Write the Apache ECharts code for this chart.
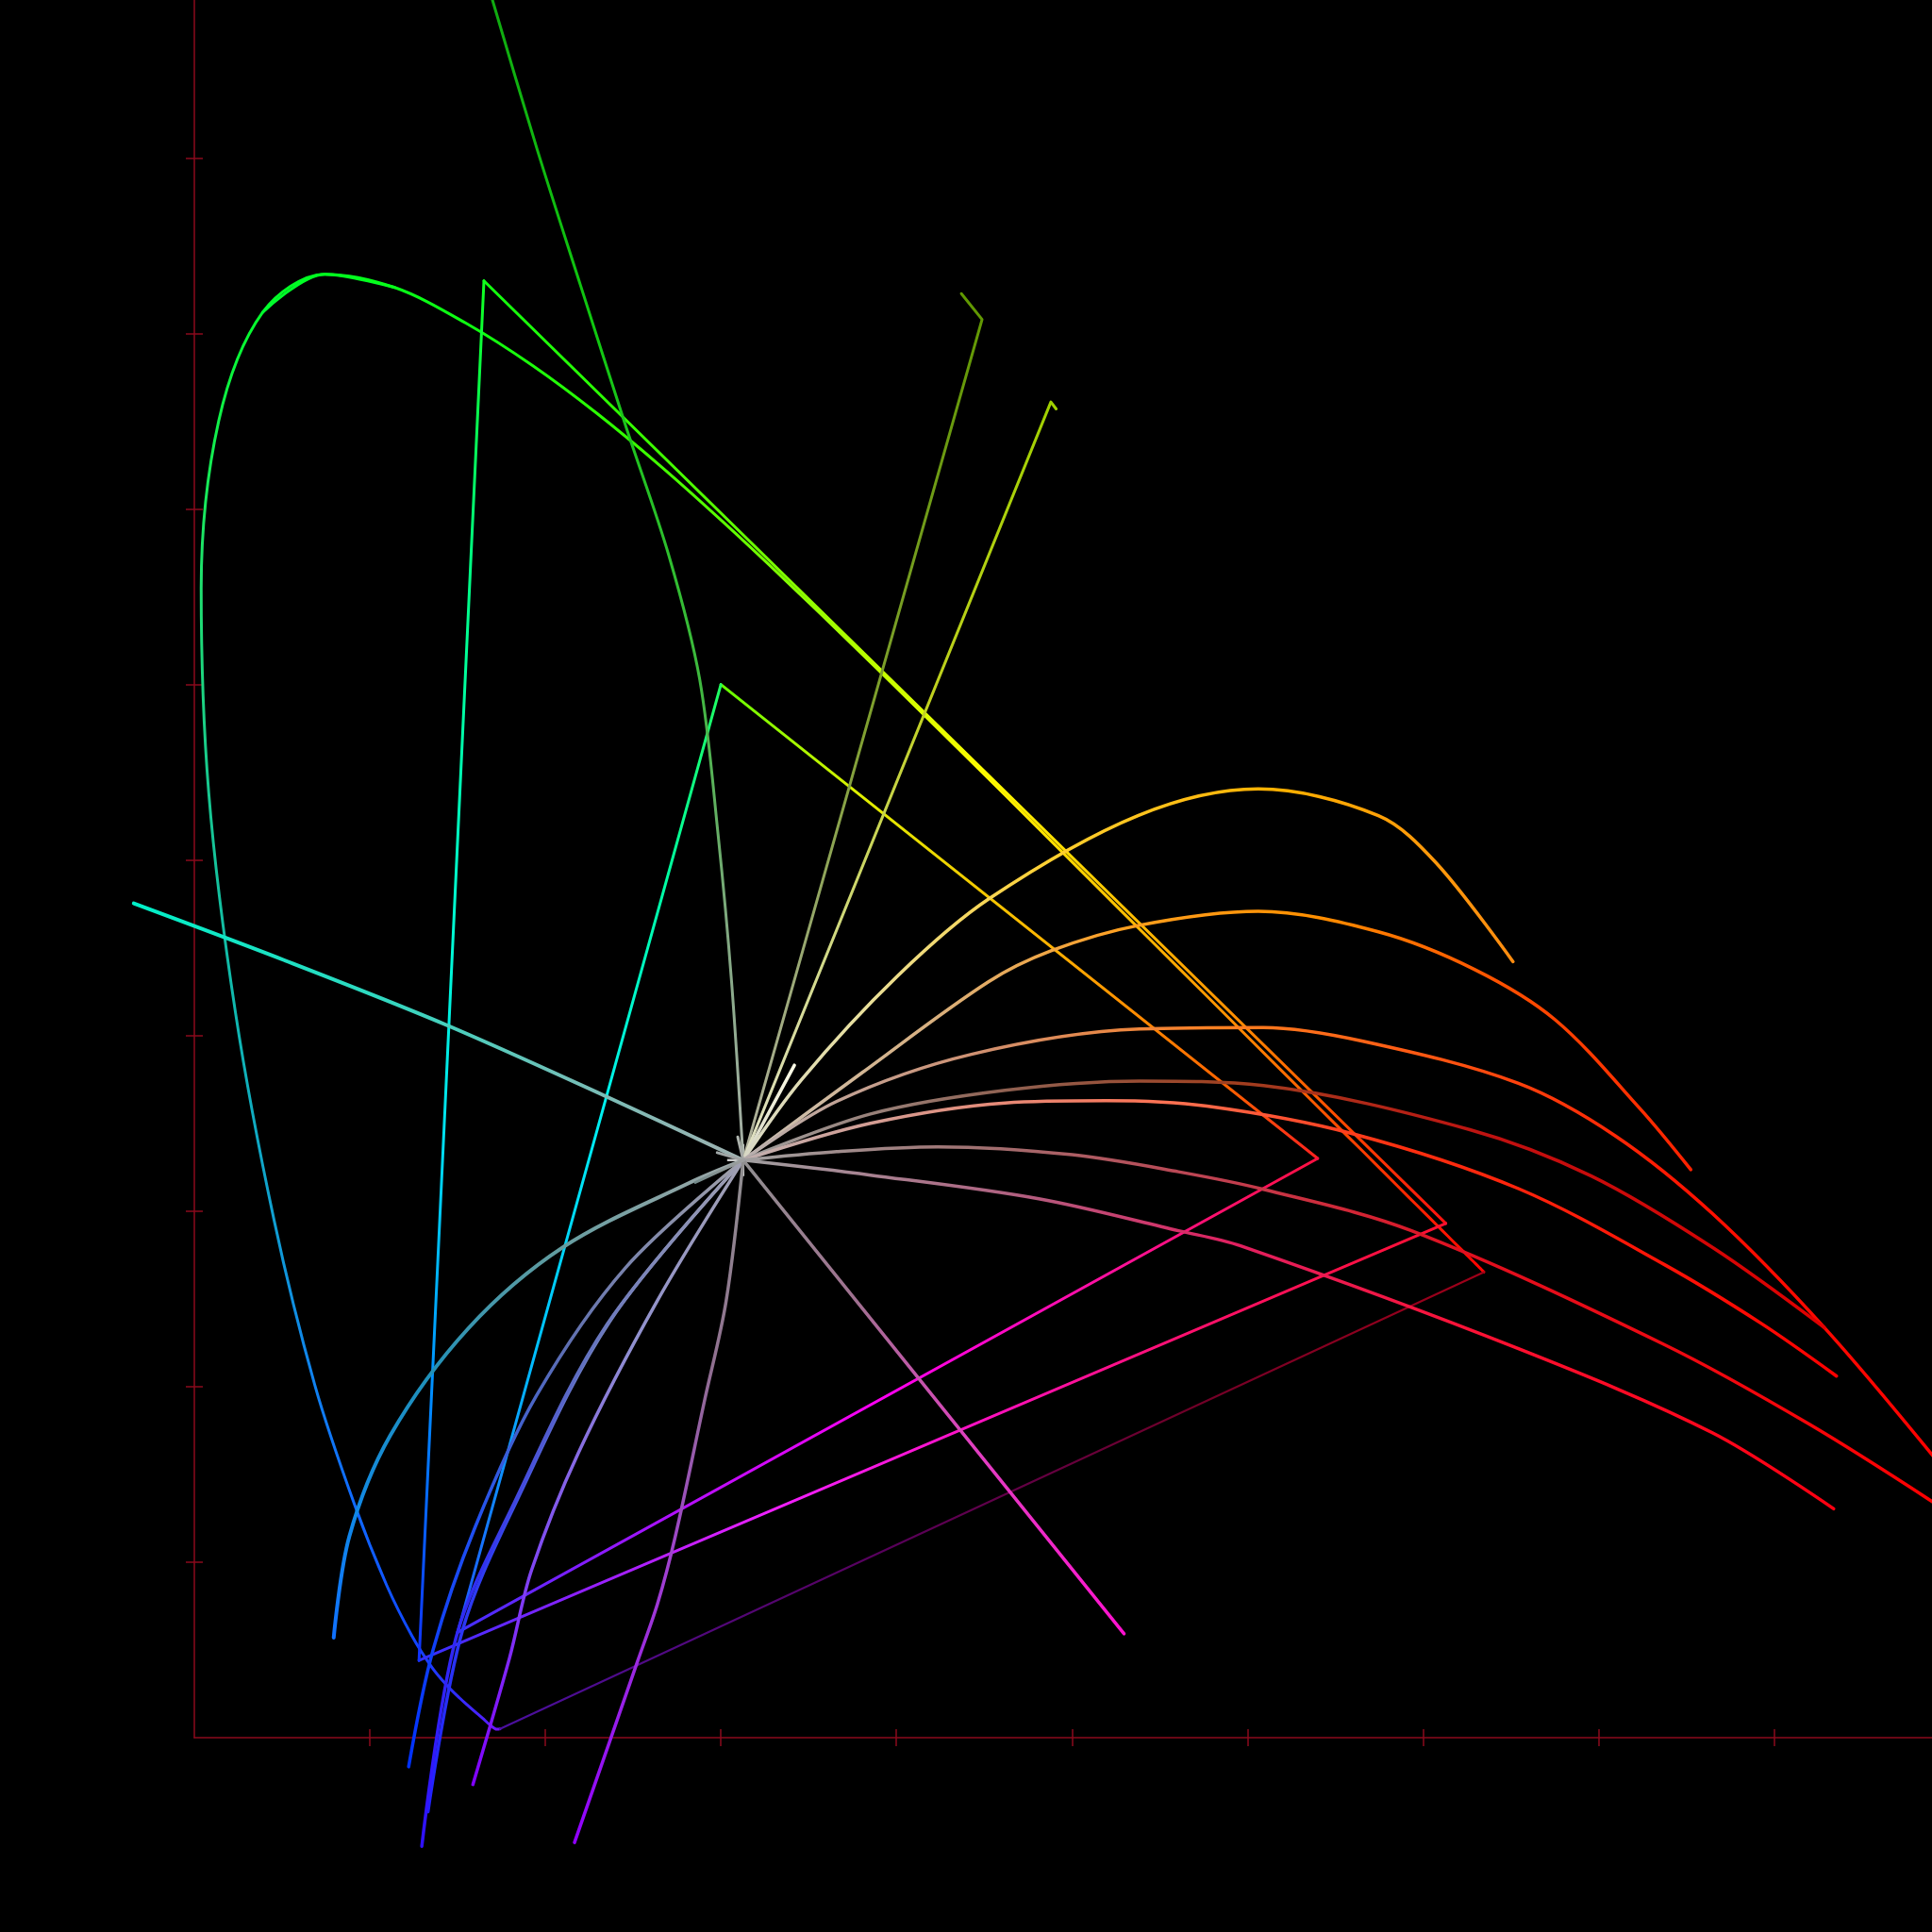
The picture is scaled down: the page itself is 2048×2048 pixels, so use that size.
<!DOCTYPE html>
<html><head><meta charset="utf-8">
<script src="https://cdn.jsdelivr.net/npm/echarts@6/dist/echarts.min.js"></script>
<style>html,body{margin:0;padding:0;background:#000;}#c{width:2048px;height:2048px;}</style>
</head><body><div id="c"></div>
<script>
// ---------- data ----------
const xTicks = [0.1,0.2,0.3,0.4,0.5,0.6,0.7,0.8,0.9];
const yTicks = [0.1,0.2,0.3,0.4,0.5,0.6,0.7,0.8,0.9];
const whitePoint = [0.3127, 0.3290];

// CIE 1931 spectral locus, 380..700 nm step 5
const locusX = [0.1741,0.1740,0.1738,0.1736,0.1733,0.1730,0.1726,0.1721,0.1714,0.1703,0.1689,0.1669,0.1644,0.1611,0.1566,0.1510,0.1440,0.1355,0.1241,0.1096,0.0913,0.0687,0.0454,0.0235,0.0082,0.0039,0.0139,0.0389,0.0743,0.1142,0.1547,0.1929,0.2296,0.2658,0.3016,0.3373,0.3731,0.4087,0.4441,0.4788,0.5125,0.5448,0.5752,0.6029,0.6270,0.6482,0.6658,0.6801,0.6915,0.7006,0.7079,0.7140,0.7190,0.7230,0.7260,0.7283,0.7300,0.7311,0.7320,0.7327,0.7334,0.7340,0.7344,0.7346,0.7347];
const locusY = [0.0050,0.0050,0.0049,0.0049,0.0048,0.0048,0.0048,0.0048,0.0051,0.0058,0.0069,0.0086,0.0109,0.0138,0.0177,0.0227,0.0297,0.0399,0.0578,0.0868,0.1327,0.2007,0.2950,0.4127,0.5384,0.6548,0.7502,0.8120,0.8338,0.8262,0.8059,0.7816,0.7543,0.7243,0.6923,0.6589,0.6245,0.5896,0.5547,0.5202,0.4866,0.4544,0.4242,0.3965,0.3725,0.3514,0.3340,0.3197,0.3083,0.2993,0.2920,0.2859,0.2809,0.2770,0.2740,0.2717,0.2700,0.2689,0.2680,0.2673,0.2666,0.2660,0.2656,0.2654,0.2653];

// gamut primaries R, G, B
const ap1Primaries  = [[0.713,0.293],[0.165,0.830],[0.128,0.044]];
const srgbPrimaries = [[0.640,0.330],[0.300,0.600],[0.150,0.060]];

// curves leaving the white point
const curveGreen  = [[0.3061,0.4304],[0.2984,0.5145],[0.2879,0.6031],[0.2704,0.6733],[0.2459,0.7469],[0.2200,0.8275],[0.1954,0.9046],[0.1702,0.9888],[0.1660,1.0030]];
const curveOlive  = [[0.4488,0.8080],[0.4370,0.8227]];
const curveLime   = [[0.4880,0.7610],[0.4910,0.7570]];
const curveWhite  = [[0.3419,0.3831]];
const curveTeal   = [[0.2334,0.3659],[0.1423,0.4066],[0.0511,0.4430],[-0.0345,0.4753]];
const curveYellow = [[0.3460,0.3750],[0.4007,0.4340],[0.4527,0.4779],[0.5376,0.5253],[0.6061,0.5405],[0.6746,0.5253],[0.7074,0.4985],[0.7513,0.4421]];
const curveOrange = [[0.3805,0.3789],[0.4522,0.4305],[0.4884,0.4484],[0.5376,0.4627],[0.6061,0.4708],[0.6746,0.4591],[0.7293,0.4377],[0.7753,0.4090],[0.8236,0.3584],[0.8526,0.3236]];
const curveAmber  = [[0.3660,0.3625],[0.4427,0.3893],[0.5386,0.4037],[0.6091,0.4046],[0.6658,0.3968],[0.7544,0.3728],[0.8097,0.3428],[0.8651,0.2984],[0.9287,0.2336],[0.9946,0.1556]];
const curveBrown  = [[0.3852,0.3553],[0.4619,0.3688],[0.5386,0.3741],[0.6091,0.3715],[0.7267,0.3464],[0.7959,0.3200],[0.8651,0.2792],[0.9287,0.2336]];
const curveSalmon = [[0.3852,0.3500],[0.4619,0.3616],[0.5194,0.3629],[0.5769,0.3598],[0.6603,0.3440],[0.7544,0.3128],[0.8374,0.2696],[0.8927,0.2360],[0.9356,0.2060]];
const curveRose   = [[0.3660,0.3339],[0.4236,0.3366],[0.5002,0.3321],[0.5607,0.3224],[0.6091,0.3124],[0.6935,0.2888],[0.8374,0.2240],[0.9204,0.1784],[0.9946,0.1316]];
const curvePink   = [[0.3852,0.3205],[0.4811,0.3070],[0.5607,0.2888],[0.5961,0.2802],[0.7544,0.2216],[0.8651,0.1736],[0.9340,0.1304]];
const curveMagenta= [[0.5297,0.0592]];
const curveSky    = [[0.2816,0.3159],[0.2100,0.2794],[0.1563,0.2334],[0.1116,0.1721],[0.0883,0.1146],[0.0794,0.0570]];
const curveBlue1  = [[0.2458,0.2679],[0.1950,0.1950],[0.1600,0.1200],[0.1360,0.0500],[0.1221,-0.0166]];
const curveBlue2  = [[0.2368,0.2373],[0.1831,0.1337],[0.1527,0.0609],[0.1331,-0.0422]];
const curveBlue3  = [[0.2350,0.2353],[0.1813,0.1318],[0.1491,0.0570],[0.1296,-0.0619]];
const curveViolet = [[0.2637,0.2488],[0.2189,0.1625],[0.1921,0.0954],[0.1796,0.0455],[0.1587,-0.0267]];
const curvePurple = [[0.3030,0.2488],[0.2905,0.1912],[0.2740,0.1146],[0.2639,0.0763],[0.2527,0.0440],[0.2166,-0.0597]];
const stub1 = [[0.3096,0.3422]];
const stub2 = [[0.2979,0.3333]];
const stub3 = [[0.2854,0.3163]];

// ---------- styles ----------
const DIRS = {E:[0,0,1,0], W:[1,0,0,0], N:[0,1,0,0], S:[0,0,0,1]};
function grad(dir, stops){
  const d = DIRS[dir];
  return {type:'linear', x:d[0], y:d[1], x2:d[2], y2:d[3], global:false,
    colorStops: stops.map(s => ({offset:s[0], color:s[1]}))};
}
function lineSeries(data, dir, stops, width, smooth){
  return {type:'line', xAxisIndex:2, yAxisIndex:2, data:data, symbol:'none', clip:false, silent:true,
    smooth: smooth || false,
    lineStyle:{width:width, color:grad(dir, stops), cap:'round', join:'round'}};
}
const fromWhite = pts => [whitePoint].concat(pts);
const locusPts = (a,b) => { const r=[]; for(let i=a;i<=b;i++) r.push([locusX[i],locusY[i]]); return r; };
const last = locusX.length-1;
const CW = 3.5, SM = 0.33;

const series = [];
// spectral locus (the two coloured parts overlap around 515-525 nm so the top stays round)
series.push(lineSeries(locusPts(0,29), 'N', [[0,'#7a10ff'],[0.007,'#5020ff'],[0.03,'#2830ff'],[0.066,'#1048ff'],[0.15,'#1068ff'],[0.235,'#1080f0'],[0.356,'#10a0d0'],[0.49,'#10b8b0'],[0.645,'#18c890'],[0.784,'#20e070'],[0.9,'#10f048'],[1,'#00ff20']], 3, SM));
series.push(lineSeries(locusPts(27,last), 'E', [[0,'#00ff30'],[0.05,'#00ff20'],[0.18,'#10ff10'],[0.29,'#30ff00'],[0.385,'#60ff00'],[0.505,'#c0ff00'],[0.585,'#ffff00'],[0.645,'#ffe000'],[0.79,'#ff9000'],[0.893,'#ff4000'],[1,'#ff0000']], 3, SM));
series.push(lineSeries([[locusX[last],locusY[last]],[locusX[0],locusY[0]]], 'W', [[0,'#a00018'],[0.3,'#700028'],[0.6,'#58005a'],[1,'#4a10a0']], 2.2, false));
// AP1 gamut
series.push(lineSeries([ap1Primaries[1],ap1Primaries[0]], 'E', [[0,'#10ff10'],[0.144,'#30ff00'],[0.265,'#60ff00'],[0.42,'#c8ff00'],[0.52,'#ffff00'],[0.593,'#ffe000'],[0.776,'#ff9000'],[0.903,'#ff4000'],[1,'#ff1010']], 3, false));
series.push(lineSeries([ap1Primaries[0],ap1Primaries[2]], 'W', [[0,'#ff1030'],[0.26,'#ff1070'],[0.45,'#ff10c0'],[0.655,'#f020ff'],[0.84,'#9020ff'],[1,'#3030ff']], 3, false));
series.push(lineSeries([ap1Primaries[2],ap1Primaries[1]], 'N', [[0,'#1030ff'],[0.2,'#0090ff'],[0.38,'#00e0f0'],[0.55,'#00ffd0'],[0.8,'#00ff80'],[1,'#10ff20']], 3, false));
// sRGB gamut
series.push(lineSeries([srgbPrimaries[1],srgbPrimaries[0]], 'E', [[0,'#60ff00'],[0.235,'#e0f000'],[0.56,'#ffb000'],[0.85,'#ff6000'],[1,'#ff2020']], 3, false));
series.push(lineSeries([srgbPrimaries[0],srgbPrimaries[2]], 'W', [[0,'#ff1040'],[0.25,'#ff10a0'],[0.5,'#ff00f0'],[0.75,'#b010ff'],[1,'#4030ff']], 3, false));
series.push(lineSeries([srgbPrimaries[2],srgbPrimaries[1]], 'N', [[0,'#2050ff'],[0.3,'#00c0ff'],[0.55,'#00f0f0'],[0.8,'#00ffa0'],[1,'#20ff60']], 3, false));
// curves from the white point
series.push(lineSeries(fromWhite(curveGreen), 'N', [[0,'#a8b0a8'],[0.2,'#80a880'],[0.4,'#40b840'],[0.7,'#10c810'],[1,'#10a810']], 3, SM));
series.push(lineSeries(fromWhite(curveOlive), 'N', [[0,'#b0b0a0'],[0.25,'#98a870'],[0.5,'#80a030'],[1,'#609800']], 3, false));
series.push(lineSeries(fromWhite(curveLime), 'N', [[0,'#e0e0c8'],[0.3,'#d0d880'],[0.6,'#c0d020'],[1,'#a0d000']], 3, false));
series.push(lineSeries(fromWhite(curveWhite), 'N', [[0,'#d0d0c0'],[1,'#ffffe8']], 3.5, false));
series.push(lineSeries(fromWhite(curveTeal), 'W', [[0,'#a0b0b0'],[0.3,'#70c0b8'],[0.6,'#30d8c0'],[1,'#00f0c8']], 4, SM));
series.push(lineSeries(fromWhite(curveYellow), 'E', [[0,'#d8d8c8'],[0.15,'#e8e0a0'],[0.4,'#ffd030'],[0.7,'#ffb000'],[1,'#ff8c10']], CW, SM));
series.push(lineSeries(fromWhite(curveOrange), 'E', [[0,'#c8c0b8'],[0.2,'#d8b080'],[0.4,'#ffa020'],[0.6,'#ff9000'],[0.8,'#ff5000'],[1,'#ff2000']], CW, SM));
series.push(lineSeries(fromWhite(curveAmber), 'E', [[0,'#b8b0b0'],[0.2,'#d09070'],[0.4,'#ff8020'],[0.6,'#ff5010'],[0.8,'#ff1000'],[1,'#ff0000']], CW, SM));
series.push(lineSeries(fromWhite(curveBrown), 'E', [[0,'#a0a0a0'],[0.25,'#906050'],[0.45,'#a04020'],[0.7,'#c01010'],[1,'#e00000']], CW, SM));
series.push(lineSeries(fromWhite(curveSalmon), 'E', [[0,'#c0b0b0'],[0.2,'#e09080'],[0.4,'#ff7050'],[0.6,'#ff3010'],[1,'#ff0000']], CW, SM));
series.push(lineSeries(fromWhite(curveRose), 'E', [[0,'#a0a0a0'],[0.2,'#a07070'],[0.4,'#c04050'],[0.6,'#e01020'],[1,'#ff0000']], CW, SM));
series.push(lineSeries(fromWhite(curvePink), 'E', [[0,'#a0a0a0'],[0.25,'#b06080'],[0.45,'#e02060'],[0.7,'#ff1030'],[1,'#ff0010']], CW, SM));
series.push(lineSeries(fromWhite(curveMagenta), 'E', [[0,'#909090'],[0.3,'#a07090'],[0.6,'#e040c0'],[1,'#ff10d0']], CW, false));
series.push(lineSeries(fromWhite(curveSky), 'S', [[0,'#a0a8a8'],[0.2,'#609ca0'],[0.45,'#2090b8'],[0.75,'#1088e8'],[1,'#1070ff']], 4, SM));
series.push(lineSeries(fromWhite(curveBlue1), 'S', [[0,'#a0a0a8'],[0.3,'#6070b0'],[0.6,'#2050f0'],[1,'#0030ff']], CW, SM));
series.push(lineSeries(fromWhite(curveBlue2), 'S', [[0,'#a0a0b0'],[0.3,'#7080c0'],[0.6,'#3040f0'],[1,'#2020ff']], CW, SM));
series.push(lineSeries(fromWhite(curveBlue3), 'S', [[0,'#a0a0b0'],[0.3,'#6070c0'],[0.6,'#3030f0'],[1,'#3010ff']], CW, SM));
series.push(lineSeries(fromWhite(curveViolet), 'S', [[0,'#a0a0b0'],[0.3,'#9090d0'],[0.6,'#8050f0'],[1,'#8000ff']], CW, SM));
series.push(lineSeries(fromWhite(curvePurple), 'S', [[0,'#909090'],[0.3,'#907090'],[0.6,'#a040d0'],[1,'#9000ff']], CW, SM));
series.push(lineSeries(fromWhite(stub1), 'N', [[0,'#a0a0a0'],[1,'#b0b8b0']], 3, false));
series.push(lineSeries(fromWhite(stub2), 'W', [[0,'#a0a0a0'],[1,'#a0a8a8']], 3, false));
series.push(lineSeries(fromWhite(stub3), 'W', [[0,'#a0a0a0'],[1,'#708888']], 3, false));
// white point marker
series.push({type:'scatter', xAxisIndex:2, yAxisIndex:2, data:[whitePoint], clip:false, silent:true,
  symbol:'path://M0,10L20,10M10,0L10,20', symbolSize:34,
  itemStyle:{color:'none', borderColor:'#ffffff', borderWidth:2.5}});

// ---------- axes ----------
const AXIS_COLOR = '#8b0a1c';
const AX_MAX = 0.99, PAD = 0.1;            // visible axes 0..0.99, drawing axes -0.1..0.99
const G_LEFT = 206, G_BOTTOM = 206;
const PX_PER_UNIT = (2048 - G_LEFT) / AX_MAX;
function axis(ticks, inside, showLine){
  return {type:'value', min:0, max:AX_MAX, interval:0.1, gridIndex:0,
    axisLine:{show:showLine, onZero:false, lineStyle:{color:AXIS_COLOR, width:1.5}},
    axisTick:{show:true, inside:inside, length:9, customValues:ticks, lineStyle:{color:AXIS_COLOR, width:1.5}},
    axisLabel:{show:false}, splitLine:{show:false}};
}
const hiddenAxis = {type:'value', min:-PAD, max:AX_MAX, gridIndex:1, show:false, splitLine:{show:false}};
const xa1 = Object.assign(axis(xTicks,false,true), {position:'bottom'});
const xa2 = Object.assign(axis(xTicks,true,false), {position:'bottom'});
const ya1 = Object.assign(axis(yTicks,false,true), {position:'left'});
const ya2 = Object.assign(axis(yTicks,true,false), {position:'left'});

const chart = echarts.init(document.getElementById('c'), null, {renderer:'canvas'});
chart.setOption({
  backgroundColor:'#000000',
  animation:false,
  grid:[
    {left:G_LEFT, right:0, top:0, bottom:G_BOTTOM, containLabel:false},
    {left:G_LEFT - PAD*PX_PER_UNIT, right:0, top:0, bottom:G_BOTTOM - PAD*PX_PER_UNIT, containLabel:false}
  ],
  xAxis:[xa1, xa2, Object.assign({}, hiddenAxis)],
  yAxis:[ya1, ya2, Object.assign({}, hiddenAxis)],
  series:series
});
</script></body></html>
